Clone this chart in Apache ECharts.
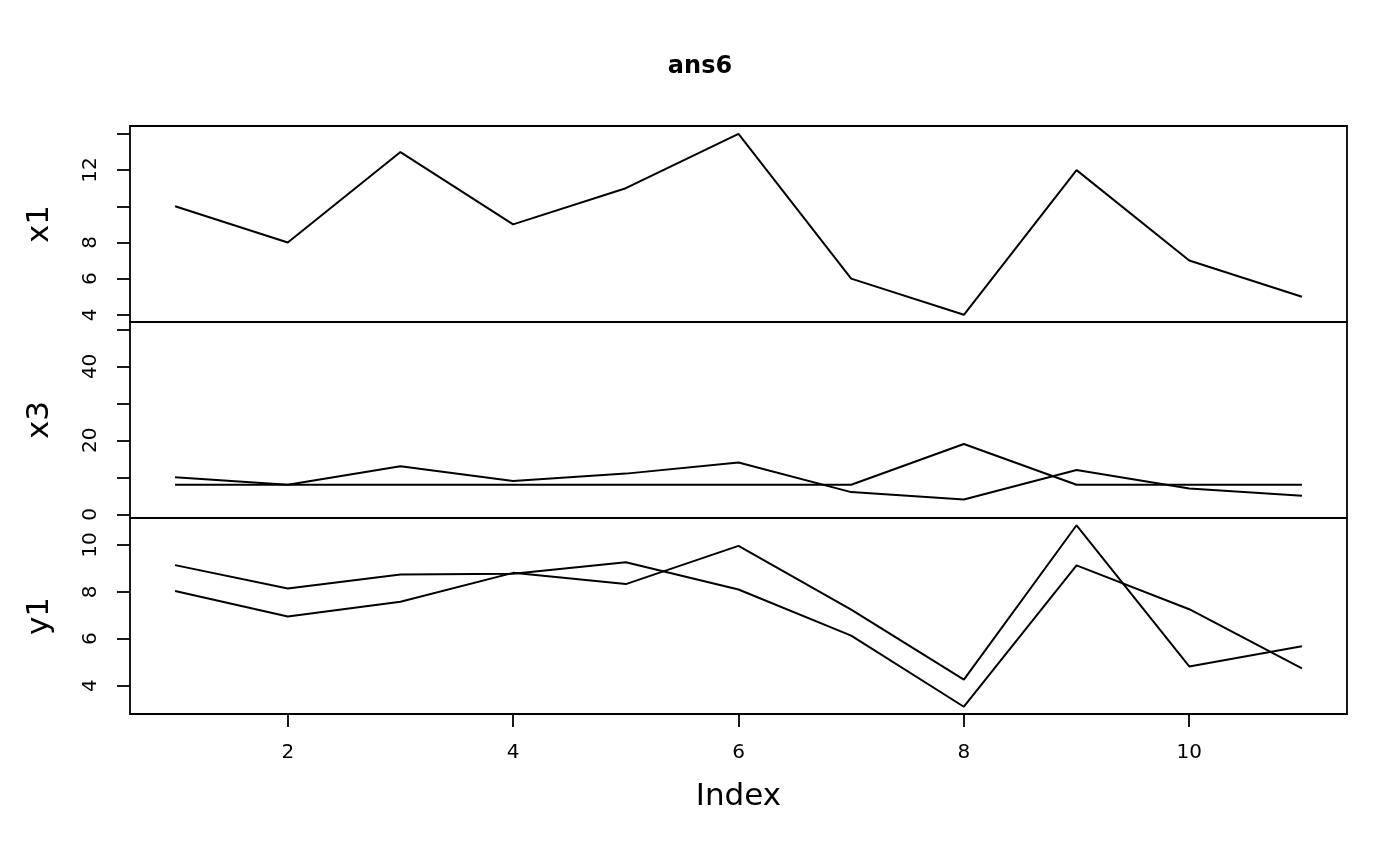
<!DOCTYPE html>
<html>
<head>
<meta charset="utf-8">
<script src="https://cdn.jsdelivr.net/npm/echarts@6/dist/echarts.min.js"></script>
<style>
html,body{margin:0;padding:0;background:#fff;}
#chart{width:1400px;height:866px;}
</style>
</head>
<body>
<div id="chart"></div>
<script>
// ---- data ----
var index = [1, 2, 3, 4, 5, 6, 7, 8, 9, 10, 11];
var x1 = [10, 8, 13, 9, 11, 14, 6, 4, 12, 7, 5];
var x3 = [10, 8, 13, 9, 11, 14, 6, 4, 12, 7, 5];
var x4 = [8, 8, 8, 8, 8, 8, 8, 19, 8, 8, 8];
var y1 = [8.04, 6.95, 7.58, 8.81, 8.33, 9.96, 7.24, 4.26, 10.84, 4.82, 5.68];
var y2 = [9.14, 8.14, 8.74, 8.77, 9.26, 8.10, 6.13, 3.10, 9.13, 7.26, 4.74];

var xTicks = [2, 4, 6, 8, 10];
var x1Ticks = [4, 6, 8, 10, 12, 14];
var x1Labels = [4, 6, 8, 12];
var x3Ticks = [0, 10, 20, 30, 40, 50];
var x3Labels = [0, 20, 40];
var y1Ticks = [4, 6, 8, 10];
var y1Labels = [4, 6, 8, 10];

var panelNames = ['x1', 'x3', 'y1'];
var titleText = 'ans6';
var xName = 'Index';

function pairs(ys) { return index.map(function (v, i) { return [v, ys[i]]; }); }

var FONT = 'DejaVu Sans';
var panelTop = [126, 322, 518];
var panelH = 196;
var grids = panelTop.map(function (t) {
  return { left: 130, right: 53, top: t, height: panelH, show: true,
           borderColor: '#000', borderWidth: 1.8, backgroundColor: 'transparent' };
});

function xAxis(gi, last) {
  return {
    type: 'value', gridIndex: gi, min: 0.6, max: 11.4,
    axisLine: { show: false },
    splitLine: { show: false },
    axisTick: { show: last, customValues: xTicks, length: 13, lineStyle: { color: '#000', width: 1.8 } },
    axisLabel: { show: last, customValues: xTicks, margin: 29, color: '#000', fontFamily: FONT, fontSize: 20 },
    name: last ? xName : '', nameLocation: 'middle', nameGap: 67,
    nameTextStyle: { color: '#000', fontFamily: FONT, fontSize: 31 }
  };
}
function yAxis(gi, mn, mx, ticks, labels, name) {
  return {
    type: 'value', gridIndex: gi, min: mn, max: mx,
    axisLine: { show: false },
    splitLine: { show: false },
    axisTick: { show: true, customValues: ticks, length: 13, lineStyle: { color: '#000', width: 1.8 } },
    axisLabel: { customValues: labels, rotate: 90, margin: 29, color: '#000', fontFamily: FONT, fontSize: 20 },
    name: name, nameLocation: 'middle', nameRotate: 90, nameGap: 75,
    nameTextStyle: { color: '#000', fontFamily: FONT, fontSize: 31 }
  };
}
var lineStyle = { color: '#000', width: 2 };
function ser(xi, ys) {
  return { type: 'line', xAxisIndex: xi, yAxisIndex: xi, data: pairs(ys), showSymbol: false,
           symbol: 'none', lineStyle: lineStyle, silent: true, animation: false };
}

var chart = echarts.init(document.getElementById('chart'));
chart.setOption({
  animation: false,
  backgroundColor: '#fff',
  title: { text: titleText, left: 'center', top: 50,
           textStyle: { fontFamily: FONT, fontWeight: 'bold', fontSize: 24, color: '#000' } },
  grid: grids,
  xAxis: [xAxis(0, false), xAxis(1, false), xAxis(2, true)],
  yAxis: [
    yAxis(0, 3.6, 14.44, x1Ticks, x1Labels, panelNames[0]),
    yAxis(1, -1, 52, x3Ticks, x3Labels, panelNames[1]),
    yAxis(2, 2.79, 11.15, y1Ticks, y1Labels, panelNames[2])
  ],
  series: [ser(0, x1), ser(1, x3), ser(1, x4), ser(2, y1), ser(2, y2)]
});
</script>
</body>
</html>
